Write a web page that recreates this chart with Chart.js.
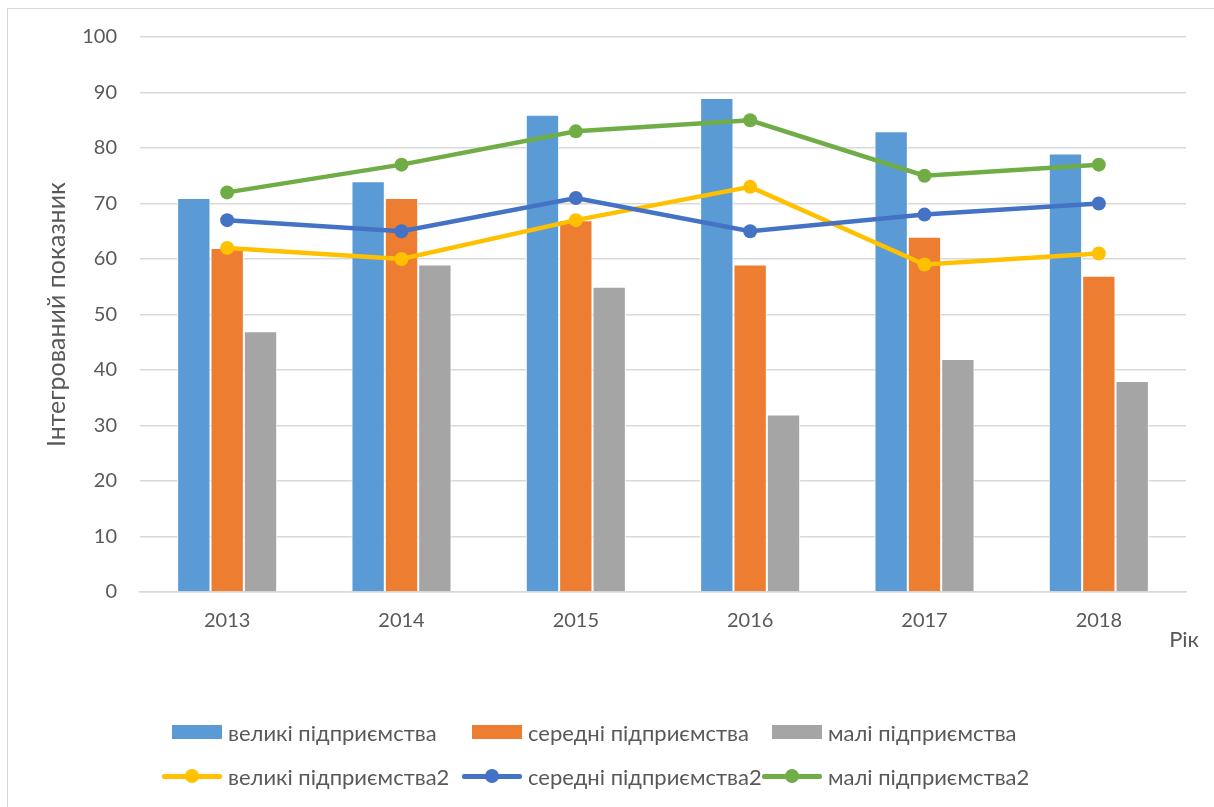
<!DOCTYPE html>
<html lang="uk">
<head>
<meta charset="utf-8">
<title>Інтегрований показник</title>
<script src="https://cdn.jsdelivr.net/npm/chart.js@4.4.0/dist/chart.umd.min.js"></script>
<style>
    html, body { margin: 0; padding: 0; background: #fff; }
    body { width: 1214px; height: 807px; overflow: hidden; position: relative; font-family: Lato, "Noto Sans", sans-serif; }
    #frame { position: absolute; left: 7px; top: 8px; width: 1230px; height: 830px; border: 1px solid #d9d9d9; }
    #chart { position: absolute; left: 0; top: 0; }
    .item { position: absolute; display: flex; align-items: center; height: 24px; font-size: 22px; color: #595959; white-space: nowrap; }
    .icon { width: 60px; height: 24px; position: relative; margin-right: 6px; flex: none; }
    .box { position: absolute; right: 0; top: 5px; width: 50px; height: 14px; }
    .ln { position: absolute; left: 0; right: 0; top: 10px; height: 5px; border-radius: 2px; }
    .dot { position: absolute; left: 23px; top: 5px; width: 14px; height: 14px; border-radius: 50%; }
</style>
</head>
<body>
<div id="frame"></div>
<canvas id="chart" width="1214" height="807"></canvas>
<div id="legend"></div>

<script>
// ---- Data ----
const years     = ["2013", "2014", "2015", "2016", "2017", "2018"];
const bigBars   = [71, 74, 86, 89, 83, 79];
const midBars   = [62, 71, 67, 59, 64, 57];
const smallBars = [47, 59, 55, 32, 42, 38];
const bigLine   = [62, 60, 67, 73, 59, 61];
const midLine   = [67, 65, 71, 65, 68, 70];
const smallLine = [72, 77, 83, 85, 75, 77];

const seriesNames = [
    "великі підприємства", "середні підприємства", "малі підприємства",
    "великі підприємства2", "середні підприємства2", "малі підприємства2"
];

const TEXT = "#595959";
const GRID = "#d9d9d9";
const FONT = "Lato, 'Noto Sans', sans-serif";

function barSet(label, data, color) {
    return {
        type: "bar", label, data, order: 10,
        backgroundColor: color, borderColor: "#ffffff", borderWidth: 1
    };
}

function lineSet(label, data, color, order) {
    return {
        type: "line", label, data, order,
        borderColor: color, backgroundColor: color, borderWidth: 4.5,
        pointRadius: 7, pointHoverRadius: 7, pointBorderWidth: 0,
        pointBackgroundColor: color, tension: 0, fill: false
    };
}

// "Рік" label to the right of the x axis
const axisEndLabel = {
    id: "axisEndLabel",
    afterDraw(chart) {
        const ctx = chart.ctx;
        ctx.save();
        ctx.font = "22px " + FONT;
        ctx.fillStyle = TEXT;
        ctx.textAlign = "right";
        ctx.textBaseline = "middle";
        ctx.fillText("Рік", chart.chartArea.right + 13, 640);
        ctx.restore();
    }
};

const chart = new Chart(document.getElementById("chart"), {
    type: "bar",
    data: {
        labels: years,
        datasets: [
            barSet(seriesNames[0], bigBars, "#5B9BD5"),
            barSet(seriesNames[1], midBars, "#ED7D31"),
            barSet(seriesNames[2], smallBars, "#A5A5A5"),
            lineSet(seriesNames[3], bigLine, "#FFC000", 2),
            lineSet(seriesNames[4], midLine, "#4472C4", 1),
            lineSet(seriesNames[5], smallLine, "#70AD47", 0)
        ]
    },
    options: {
        responsive: false,
        animation: false,
        devicePixelRatio: 1,
        layout: { padding: { left: 0, right: 28, top: 37, bottom: 145 } },
        datasets: { bar: { categoryPercentage: 0.574, barPercentage: 1.0 } },
        plugins: { legend: { display: false }, tooltip: { enabled: false } },
        scales: {
            x: {
                grid: { display: false, drawTicks: false },
                border: { color: GRID, width: 1.5 },
                ticks: { color: TEXT, font: { family: FONT, size: 20 }, padding: 17 },
                afterFit: s => { s.height = 70; }
            },
            y: {
                min: 0, max: 100,
                ticks: { stepSize: 10, color: TEXT, font: { family: FONT, size: 20 }, padding: 23 },
                grid: { color: GRID, lineWidth: 1.5, drawTicks: false },
                border: { display: false },
                title: {
                    display: true, text: "Інтегрований показник", color: TEXT,
                    font: { family: FONT, size: 25 }, padding: { top: 42, bottom: 0 }
                },
                afterFit: s => { s.width = 140; }
            }
        }
    },
    plugins: [axisEndLabel]
});

// ---- HTML legend: two rows, three columns ----
const legend = document.getElementById("legend");
chart.data.datasets.forEach((ds, i) => {
    const row = Math.floor(i / 3);
    const col = i % 3;
    const item = document.createElement("div");
    item.className = "item";
    item.style.left = (162 + col * 300) + "px";
    item.style.top  = (row === 0 ? 720 : 764) + "px";

    const icon = document.createElement("span");
    icon.className = "icon";
    if (ds.type === "bar") {
        icon.innerHTML = `<span class="box" style="background:${ds.backgroundColor}"></span>`;
    } else {
        icon.innerHTML = `<span class="ln" style="background:${ds.borderColor}"></span>` +
                         `<span class="dot" style="background:${ds.borderColor}"></span>`;
    }
    const text = document.createElement("span");
    text.textContent = ds.label;

    item.appendChild(icon);
    item.appendChild(text);
    legend.appendChild(item);
});
</script>
</body>
</html>
